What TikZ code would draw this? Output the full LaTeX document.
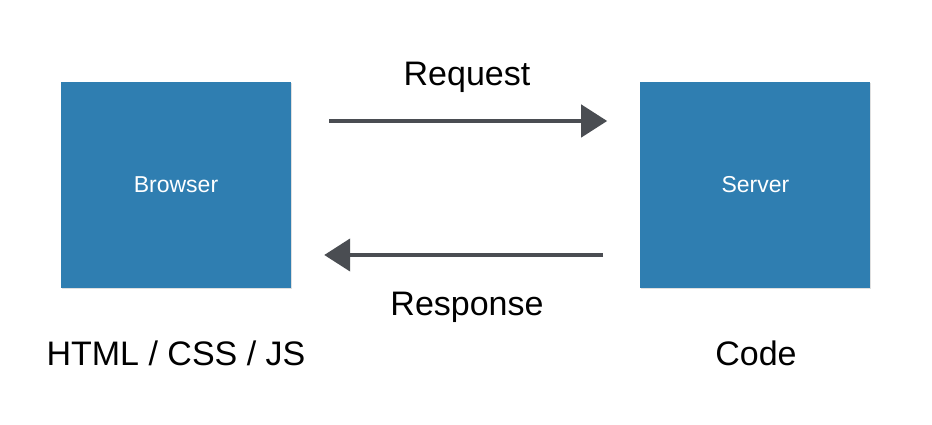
\documentclass[tikz,border=0pt]{standalone}
\usepackage{fontspec}
\setmainfont{Liberation Sans}
\usepackage{tikz}
\usetikzlibrary{arrows.meta, positioning, shadows}

\definecolor{boxblue}{RGB}{47,126,177}
\definecolor{arrowgray}{RGB}{74,77,82}

\begin{document}
\begin{tikzpicture}[
    x=1pt, y=1pt,
    node distance=349pt,
    block/.style={
        fill=boxblue,
        minimum width=230pt,
        minimum height=206pt,
        inner sep=0pt,
        text=white,
        font=\fontsize{23}{28}\selectfont,
        drop shadow={opacity=0.25, shadow xshift=1pt, shadow yshift=-1.5pt}
    },
    caption/.style={
        anchor=base,
        inner sep=0pt,
        font=\fontsize{34}{40}\selectfont
    },
    arrow/.style={
        -{Triangle[length=26pt, width=32pt]},
        line width=4.5pt,
        draw=arrowgray
    }
]
\useasboundingbox (0,0) rectangle (932,425);

\node[block] (browser) at (176,240) {Browser};
\node[block, right=of browser] (server) {Server};

\node[caption] (request) at (467,339) {Request};
\node[caption] (response) at (467,109) {Response};
\node[caption] (html) at (176,59) {HTML / CSS / JS};
\node[caption] (code) at (756,59) {Code};

\draw[arrow] ([shift={(38pt,64pt)}]browser.east) -- ([shift={(-33pt,64pt)}]server.west);
\draw[arrow] ([shift={(-37pt,-70pt)}]server.west) -- ([shift={(33pt,-70pt)}]browser.east);
\end{tikzpicture}
\end{document}
